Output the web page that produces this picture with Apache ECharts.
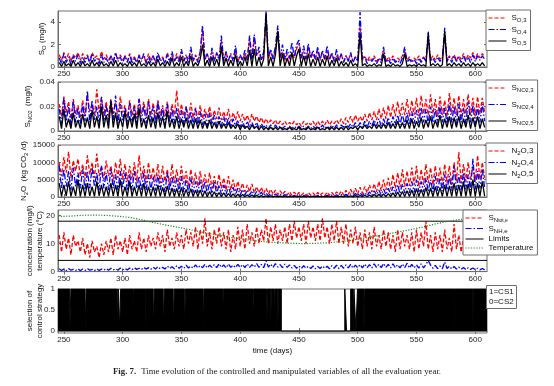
<!DOCTYPE html>
<html><head><meta charset="utf-8">
<script src="https://cdn.jsdelivr.net/npm/echarts@6/dist/echarts.min.js"></script>
<style>html,body{margin:0;padding:0;background:#fff}#c{width:554px;height:386px}</style>
</head><body><div id="c"></div>
<script>
// ---- sampling of the noisy series (days) ----
const dayStart = 246, dayStep = 2;
const xTicks = [250,300,350,400,450,500,550,600];

// Panel 1: S_O (mg/l)
const so3 = [1.1,0.6,1.3,0.7,1.2,0.5,1.1,0.8,1.3,0.6, 1.2,0.7,1.1,0.5,1.3,0.8,1.0,0.6,1.4,0.7, 1.1,0.6,1.0,0.5,1.2,0.7,1.1,0.6,1.0,0.5, 1.2,0.6,0.9,0.5,1.1,0.7,1.0,0.4,1.2,0.6, 1.0,0.5,1.1,0.7,0.9,0.4,1.3,0.6,1.0,0.5, 1.2,0.6,1.4,0.5,1.0,0.7,1.5,0.5,1.1,0.6, 1.3,3.4,0.7,1.1,0.5,1.4,0.6,1.2,0.8,2.4, 0.6,1.3,0.5,1.1,0.7,1.5,0.5,1.0,0.6,1.2, 0.7,2.5,0.6,2.6,1.0,1.4,0.6,1.2,4.2,0.8, 1.3,0.7,1.5,3.2,0.8,1.4,0.6,1.2,0.7,1.3, 0.8,1.6,2.1,0.7,1.4,0.6,1.8,0.8,1.2,0.6, 1.5,0.7,1.3,0.6,1.4,0.7,1.2,0.5,1.0,0.6, 1.1,0.5,1.0,0.6,1.2,0.5,0.9,0.6,3.6,0.7, 1.0,0.5,0.9,0.6,1.0,0.5,0.8,0.6,1.5,0.5, 0.9,0.6,1.0,0.5,0.8,0.6,1.0,1.4,0.6,0.9, 0.5,0.8,0.6,1.0,0.5,0.9,0.6,2.5,0.7,1.0, 0.6,1.1,0.7,0.9,2.8,0.6,1.0,0.7,1.1,0.6, 1.0,0.7,1.2,0.6,1.1,0.8,1.3,0.7,1.2,0.8, 1.2,0.9];
const so4 = [0.8,0.3,1.2,0.4,0.9,0.2,1.0,0.5,1.1,0.3, 0.9,0.4,1.0,0.3,1.2,0.5,0.8,0.3,1.1,0.4, 0.8,0.3,1.0,0.4,1.3,0.5,0.9,0.3,1.0,0.4, 1.1,0.3,0.8,0.4,1.0,0.5,1.2,0.3,0.9,0.4, 1.0,0.3,1.3,0.5,0.8,0.3,1.1,0.4,1.4,0.5, 0.9,0.4,1.6,0.5,1.1,0.3,1.8,0.6,1.0,0.4, 1.4,3.7,0.6,1.2,0.4,1.7,0.5,1.3,0.6,2.8, 0.5,1.4,0.6,1.2,0.5,1.9,0.4,1.1,0.6,1.5, 0.6,2.8,0.7,2.9,1.0,1.8,0.6,1.4,5.0,0.9, 1.6,0.7,1.9,3.7,0.9,2.0,0.7,1.6,0.8,2.2, 0.9,2.0,2.4,0.8,1.9,0.7,2.1,0.8,1.5,0.7, 1.8,0.6,1.5,0.7,1.9,0.6,1.3,0.5,1.6,0.5, 1.2,0.4,1.0,0.5,1.3,0.4,0.9,0.5,4.9,0.6, 0.9,0.3,0.7,0.5,0.8,0.3,0.7,0.4,1.8,0.4, 0.7,0.3,0.8,0.4,0.6,0.3,0.8,1.8,0.4,0.7, 0.4,0.7,0.3,0.8,0.4,0.9,0.5,3.2,0.5,0.8, 0.4,0.9,0.5,0.8,3.5,0.5,0.9,0.4,1.0,0.5, 0.9,0.4,1.0,0.5,0.9,0.4,1.1,0.5,1.0,0.6, 1.0,0.7];
const so5 = [0.4,0.05,0.5,0.1,0.3,0.05,0.6,0.1,0.4,0.05, 0.5,0.1,0.3,0.05,0.6,0.1,0.4,0.05,0.5,0.1, 0.3,0.05,0.5,0.1,0.6,0.05,0.4,0.1,0.3,0.05, 0.5,0.1,0.4,0.05,0.6,0.1,0.3,0.05,0.5,0.1, 0.4,0.05,0.7,0.1,0.4,0.05,0.5,0.1,0.8,0.05, 0.4,0.1,0.9,0.05,0.5,0.1,1.0,0.05,0.4,0.1, 0.7,2.0,0.1,0.6,0.05,0.9,0.1,0.7,0.05,1.8, 0.1,0.8,0.05,0.6,0.1,1.1,0.05,0.5,0.1,0.9, 0.1,1.5,0.05,1.6,0.1,0.9,0.05,0.7,4.8,0.1, 0.9,0.05,1.1,3.2,0.1,1.2,0.05,0.8,0.1,1.3, 0.1,1.0,1.6,0.05,1.0,0.1,1.2,0.05,0.7,0.1, 0.9,0.05,0.7,0.1,1.0,0.05,0.6,0.1,0.8,0.05, 0.5,0.1,0.4,0.05,0.6,0.1,0.3,0.05,3.0,0.1, 0.3,0.05,0.2,0.1,0.3,0.05,0.2,0.1,1.2,0.05, 0.2,0.05,0.3,0.1,0.2,0.05,0.3,1.2,0.05,0.2, 0.1,0.2,0.05,0.3,0.1,0.2,0.05,3.0,0.1,0.3, 0.1,0.3,0.05,0.2,3.2,0.1,0.3,0.05,0.4,0.1, 0.3,0.05,0.4,0.1,0.3,0.05,0.4,0.1,0.3,0.1, 0.4,0.1];

// Panel 2: S_NO2 (mg/l)
const no3 = [.022,.012,.028,.015,.024,.010,.026,.014,.021,.011, .025,.013,.029,.016,.022,.012,.034,.015,.027,.013, .024,.011,.026,.014,.023,.012,.028,.015,.021,.011, .025,.013,.022,.010,.027,.014,.024,.012,.026,.013, .023,.011,.025,.013,.021,.012,.024,.010,.022,.013, .033,.011,.022,.012,.020,.010,.023,.011,.019,.010, .021,.010,.018,.011,.020,.009,.017,.010,.019,.009, .016,.009,.018,.008,.015,.009,.016,.008,.014,.008, .013,.007,.014,.008,.012,.007,.011,.006,.010,.006, .009,.006,.009,.005,.008,.005,.008,.005,.007,.005, .008,.005,.007,.004,.008,.005,.007,.005,.008,.004, .008,.005,.008,.005,.009,.005,.008,.006,.009,.006, .010,.006,.011,.007,.012,.007,.013,.008,.012,.008, .014,.008,.015,.009,.016,.009,.018,.010,.019,.010, .021,.011,.022,.012,.024,.012,.023,.013,.026,.012, .025,.013,.027,.012,.029,.014,.026,.013,.030,.014, .026,.012,.028,.013,.025,.012,.031,.014,.027,.013, .029,.012,.026,.014,.030,.013,.027,.012,.028,.014, .027,.015];
const no4 = [.018,.006,.027,.008,.020,.005,.024,.007,.019,.006, .022,.008,.033,.007,.025,.009,.020,.006,.028,.008, .021,.007,.025,.009,.029,.006,.022,.008,.019,.006, .023,.007,.020,.005,.026,.008,.021,.006,.024,.007, .020,.006,.024,.008,.019,.005,.022,.007,.018,.006, .019,.006,.017,.005,.020,.006,.016,.005,.018,.004, .016,.005,.014,.004,.015,.005,.013,.004,.012,.004, .012,.004,.011,.003,.010,.004,.009,.003,.008,.003, .008,.003,.007,.003,.007,.002,.006,.003,.005,.002, .005,.002,.005,.002,.004,.002,.004,.002,.004,.002, .004,.002,.004,.002,.004,.002,.004,.002,.004,.002, .004,.002,.005,.002,.004,.002,.005,.002,.005,.002, .005,.003,.006,.003,.006,.003,.007,.003,.007,.003, .008,.003,.008,.004,.009,.004,.010,.004,.010,.004, .011,.004,.012,.005,.013,.005,.014,.005,.015,.005, .016,.006,.017,.006,.019,.007,.018,.006,.020,.007, .018,.006,.021,.007,.019,.006,.023,.007,.020,.006, .022,.007,.019,.006,.024,.007,.021,.006,.020,.007, .022,.008];
const no5 = [.012,.002,.018,.003,.010,.002,.015,.003,.009,.002, .014,.003,.011,.002,.017,.003,.012,.002,.020,.003, .013,.002,.024,.003,.015,.002,.011,.003,.016,.002, .012,.003,.014,.002,.018,.003,.010,.002,.013,.003, .011,.002,.015,.003,.012,.002,.016,.003,.010,.002, .012,.002,.010,.003,.011,.002,.009,.002,.010,.002, .009,.002,.008,.002,.009,.002,.007,.002,.008,.002, .006,.002,.007,.002,.005,.002,.006,.001,.005,.002, .004,.001,.005,.002,.004,.001,.004,.001,.003,.001, .003,.001,.003,.001,.003,.001,.002,.001,.003,.001, .002,.001,.003,.001,.002,.001,.003,.001,.002,.001, .003,.001,.002,.001,.003,.001,.003,.001,.003,.001, .003,.001,.004,.001,.003,.002,.004,.001,.004,.002, .005,.002,.004,.002,.006,.002,.005,.002,.006,.002, .007,.002,.006,.002,.008,.002,.007,.002,.009,.002, .010,.002,.008,.003,.011,.002,.009,.003,.012,.002, .009,.003,.013,.002,.010,.003,.012,.002,.011,.003, .012,.002,.010,.003,.013,.002,.011,.003,.012,.002, .010,.003];

// Panel 3: N2O (kg CO2/d)
const n2o3 = [10000,6000,11500,7000,13000,5500,10500,7500,11000,6000, 9500,5000,12000,6500,10000,5500,12500,6000,9000,5000, 10500,6000,9000,4500,10000,5500,11000,5000,9500,4500, 9000,5000,10000,4500,12000,5000,9000,4000,10000,5000, 8500,4500,9500,4000,9000,4500,8000,3500,9500,4000, 8000,3500,9000,4000,7500,3000,8000,3500,7000,3000, 7500,3000,6500,3000,7000,2500,6000,2500,6500,2500, 5500,2000,6000,2000,5000,1800,4500,1800,4000,1500, 3500,1500,3800,1200,3000,1200,2800,1000,2500,900, 2200,800,2000,700,1800,700,1600,600,1500,500, 1400,500,1300,500,1200,400,1300,500,1200,400, 1300,500,1200,400,1400,500,1300,500,1500,600, 1700,600,1900,700,2200,800,2500,900,2800,1000, 3000,1200,3500,1400,3800,1500,4500,1800,5000,2000, 5500,2200,6500,2500,7000,2800,8000,3000,7500,3200, 8500,3500,9000,3000,8000,3500,9500,4000,8500,3500, 9000,4000,8500,3500,9500,4000,9000,3500,10000,4500, 13000,4000,9500,4500,10000,5000,9000,4500,12000,5000, 10000,5500];
const n2o4 = [9000,2500,8000,3000,7500,2000,8500,3000,7000,2500, 8000,2000,7500,2500,8500,3000,7000,2000,9000,2500, 7000,2000,8000,2500,6500,2000,7500,2500,7000,1800, 6500,2000,7500,2500,6000,1800,7000,2000,6500,2000, 6000,1800,6500,2000,5500,1500,7000,1800,6000,1500, 5500,1500,6000,1500,5000,1200,5500,1300,4500,1200, 5000,1200,4500,1000,4000,1000,4500,900,3500,800, 3500,800,3000,700,2800,600,2500,600,2200,500, 2000,500,1800,400,1600,400,1400,350,1200,300, 1000,300,900,250,800,250,700,200,600,200, 500,200,500,150,450,150,500,150,450,150, 500,150,450,150,500,200,550,200,600,200, 700,250,800,300,900,300,1000,350,1200,400, 1300,400,1500,500,1800,600,2000,600,2300,700, 2500,800,3000,900,3500,1000,3800,1100,4000,1200, 4500,1300,5000,1500,4500,1400,5500,1600,5000,1500, 6000,1800,5500,1700,6500,2000,6000,1800,9000,2000, 6500,2000,7000,2200,6500,2000,11000,2200,7500,2500, 8000,2500];
const n2o5 = [4000,200,3500,300,4500,200,3000,300,5000,200, 3500,200,4000,300,3000,200,4500,300,3500,200, 3000,200,4000,300,3500,200,5000,300,3000,200, 4500,200,3000,300,3500,200,4000,200,3000,200, 3000,200,3500,200,2800,150,3200,200,2600,150, 2500,150,2800,150,2200,100,2400,150,2000,100, 2000,100,1800,100,1600,100,1500,100,1300,80, 1200,80,1000,80,900,60,800,60,700,50, 600,50,550,40,500,40,400,40,350,30, 300,30,280,30,250,20,220,20,200,20, 180,20,170,20,160,20,170,20,160,20, 170,20,160,20,180,20,190,20,200,20, 250,30,300,30,350,40,400,40,450,50, 500,50,600,60,700,60,800,70,900,80, 1000,90,1200,100,1400,100,1600,120,1800,130, 2000,150,2400,150,2200,150,2800,200,2600,150, 3000,200,2800,200,3500,200,3200,200,4000,200, 3500,200,4500,200,3800,200,5000,200,4000,200, 4500,250];

// Panel 4: concentration (mg/l) and temperature (°C)
const sNtot = [13,7,14,8,12,6,13,9,11,7, 12,6,10,5,11,7,9,5,10,6, 11,7,12,6,13,8,11,7,12,6, 13,8,11,7,14,8,12,7,13,9, 12,8,14,9,13,7,15,9,12,8, 14,9,13,8,15,10,14,9,16,8, 15,10,19,9,14,8,15,10,16,9, 14,8,15,7,13,8,16,9,15,8, 17,10,14,9,16,10,15,11,19,10, 16,11,17,10,15,11,16,10,17,11, 18,12,16,11,17,10,18,12,16,11, 17,11,19,12,16,10,17,11,18,10, 16,10,17,9,15,10,16,9,14,8, 15,9,14,8,16,9,13,8,15,9, 14,8,13,7,15,8,14,9,13,8, 14,7,15,8,14,9,18,8,13,7, 14,8,13,7,15,8,12,7,17,8, 13,7,12,6,14,7,13,8,12,7, 13,8];
const sNH = [1.0,0.4,0.9,0.3,1.1,0.5,0.8,0.4,1.0,0.3, 0.9,0.4,1.1,0.5,0.8,0.3,1.0,0.4,0.9,0.5, 1.1,0.5,1.2,0.6,1.0,0.5,1.3,0.6,1.1,0.6, 1.3,0.7,1.4,0.8,1.2,0.7,1.5,0.9,1.4,0.8, 1.6,0.9,1.8,1.0,1.5,0.9,2.0,1.1,1.7,1.0, 2.1,1.2,1.9,1.1,2.3,1.3,2.0,1.2,2.4,1.3, 2.2,1.4,2.6,1.3,2.3,1.5,2.5,1.4,2.8,1.5, 2.4,1.3,2.7,1.5,2.3,1.4,2.6,1.5,2.5,1.4, 2.8,1.5,2.5,1.6,2.9,1.5,2.6,1.4,3.8,1.6, 2.7,1.5,2.9,1.6,2.5,1.4,2.7,1.5,2.4,1.3, 2.2,1.2,2.0,1.1,2.1,1.2,1.9,1.1,2.0,1.0, 1.8,1.1,2.0,1.2,1.9,1.0,2.1,1.2,2.3,1.1, 2.2,1.2,2.4,1.3,2.6,1.2,2.3,1.4,2.5,1.3, 2.7,1.4,2.5,1.3,2.8,1.5,2.6,1.4,2.9,1.5, 2.6,1.3,2.8,1.4,2.5,1.3,2.7,1.4,3.0,1.3, 2.6,1.3,2.4,1.2,2.8,1.3,2.5,4.0,2.3,1.2, 2.2,1.1,2.0,1.0,3.4,1.1,1.9,1.0,1.8,0.9, 1.6,0.8,1.5,0.7,1.4,0.8,1.3,0.7,1.2,0.6, 1.1,0.6];
const tempStart = 245, tempStep = 10;
const temperature = [19.7,19.8,20.1,20.2,20.1,19.8,19.4,18.6,17.6,16.8,16.0,15.2,14.3,13.5,12.7,12.0,11.4,10.9,10.5,10.3,10.1,10.0,10.1,10.3,10.7,11.2,11.9,12.6,13.4,14.2,15.0,15.9,16.9,17.8,18.5,19.0,19.4];
const limitValues = [18, 4];

// Panel 5: selection of control strategy (periods with CS2 = 0)
const cs2Periods = [[255,256],[268,269],[295.5,296.5],[297.5,298.3],[309,309.5],[319,319.4],[326,327],[334.5,335.5],[343,344],[352.5,353.5],[368.5,369.3],[385,385.6],[410.5,411.3],[422.5,423.3],[426,426.5],[429,429.6],[432,432.6],[435,489],[490.5,494],[496,496.8],[498.5,499.8],[505.3,506],[582,582.4],[598,598.3]];

// ---- build ----
const xMin = 245, xMax = 610;
const toXY = arr => arr.map((v, i) => [dayStart + i * dayStep, v]);
const tempXY = temperature.map((v, i) => [tempStart + i * tempStep, v]);
const csData = [[xMin, 1]];
cs2Periods.forEach(p => { csData.push([p[0], 0]); csData.push([p[1], 1]); });
csData.push([xMax, 1]);

const FONT = 'Liberation Sans, Arial, Helvetica, sans-serif';
const SERIF = 'Liberation Serif, Times New Roman, serif';
const frame = '#6e6e6e';
const RED = '#ff0000', BLUE = '#0000ff', BLACK = '#000000', GREEN = '#1e8c1e';
const DASH = [4, 2], DASHDOT = [6, 2, 1.5, 2], DOT = [1.2, 1.5];
const FS = 8;

const panels = [
  {top: 11, height: 56, min: 0, max: 5, ticks: [0, 2, 4], gap: 11,
   name: '{m|S}{s|O}{m| (mg/l)}'},
  {top: 82, height: 49, min: 0, max: 0.04, ticks: [0, 0.02, 0.04], gap: 25,
   name: '{m|S}{s|NO}{t|2}{m|  (mg/l)}'},
  {top: 145, height: 52, min: 0, max: 15000, ticks: [0, 5000, 10000, 15000], gap: 29,
   name: '{m|N}{s|2}{m|O  (kg CO}{s|2}{m| /d)}'},
  {top: 210, height: 61.6, min: 0, max: 22, ticks: [0, 10, 20], gap: 13,
   name: '{m|concentration (mg/l)}\n{m|temperature (°C)}'},
  {top: 289, height: 44, min: -0.05, max: 1, ticks: [0, 0.5, 1], gap: 13,
   name: '{m|selection of}\n{m|control strategy}'}
];
const rich = {
  m: {fontSize: FS, lineHeight: 11, fontFamily: FONT, color: '#111'},
  s: {fontSize: 6, lineHeight: 5, verticalAlign: 'bottom', fontFamily: FONT, color: '#111'},
  t: {fontSize: 5, lineHeight: 2, verticalAlign: 'bottom', fontFamily: FONT, color: '#111'}
};
const nameRich = {
  m: {fontSize: FS, lineHeight: 10, fontFamily: FONT, color: '#111'},
  s: {fontSize: 6, lineHeight: 4, verticalAlign: 'bottom', fontFamily: FONT, color: '#111'},
  t: {fontSize: 5, lineHeight: 1, verticalAlign: 'bottom', fontFamily: FONT, color: '#111'}
};

const grid = [], xAxis = [], yAxis = [];
panels.forEach((p, k) => {
  grid.push({left: 58, width: 429, top: p.top, height: p.height, show: true,
    borderColor: frame, borderWidth: 1, backgroundColor: 'transparent'});
  xAxis.push({type: 'value', gridIndex: k, min: xMin, max: xMax, position: 'bottom',
    splitLine: {show: false},
    axisLine: {show: true, lineStyle: {color: frame}},
    axisTick: {show: true, inside: true, length: 3, customValues: xTicks, lineStyle: {color: frame}},
    axisLabel: {customValues: xTicks, fontSize: FS, margin: 3, color: '#222', fontFamily: FONT},
    name: k === 4 ? 'time (days)' : '', nameLocation: 'middle', nameGap: 14, nameMoveOverlap: false,
    nameTextStyle: {fontSize: FS, color: '#111', fontFamily: FONT}});
  xAxis.push({type: 'value', gridIndex: k, min: xMin, max: xMax, position: 'top',
    splitLine: {show: false}, axisLine: {show: false}, axisLabel: {show: false},
    axisTick: {show: true, inside: true, length: 3, customValues: xTicks, lineStyle: {color: frame}}});
  yAxis.push({type: 'value', gridIndex: k, min: p.min, max: p.max, position: 'left',
    splitLine: {show: false},
    axisLine: {show: true, lineStyle: {color: frame}},
    axisTick: {show: true, inside: true, length: 3, customValues: p.ticks, lineStyle: {color: frame}},
    axisLabel: {customValues: p.ticks, fontSize: FS, margin: 3, color: '#222', fontFamily: FONT,
      formatter: v => String(v)},
    name: p.name, nameLocation: 'middle', nameRotate: 90, nameGap: p.gap, nameMoveOverlap: false,
    nameTextStyle: {rich: nameRich, align: 'center'}});
  yAxis.push({type: 'value', gridIndex: k, min: p.min, max: p.max, position: 'right',
    splitLine: {show: false}, axisLine: {show: false}, axisLabel: {show: false},
    axisTick: {show: true, inside: true, length: 3, customValues: p.ticks, lineStyle: {color: frame}}});
});

function line(name, k, data, color, type, width, extra) {
  return Object.assign({name, type: 'line', xAxisIndex: 2 * k, yAxisIndex: 2 * k, data,
    symbol: 'none', silent: true, animation: false,
    lineStyle: {color, width, type}, itemStyle: {color}}, extra || {});
}
const W = 1.3;
const series = [
  line('SO3', 0, toXY(so3), RED, DASH, W),
  line('SO4', 0, toXY(so4), BLUE, DASHDOT, W),
  line('SO5', 0, toXY(so5), BLACK, 'solid', W),
  line('SNO3', 1, toXY(no3), RED, DASH, W),
  line('SNO4', 1, toXY(no4), BLUE, DASHDOT, W),
  line('SNO5', 1, toXY(no5), BLACK, 'solid', W),
  line('N2O3', 2, toXY(n2o3), RED, DASH, W),
  line('N2O4', 2, toXY(n2o4), BLUE, DASHDOT, W),
  line('N2O5', 2, toXY(n2o5), BLACK, 'solid', W),
  line('SNtot', 3, toXY(sNtot), RED, DASH, W),
  line('SNH', 3, toXY(sNH), BLUE, DASHDOT, W),
  line('Limits', 3, [[xMin, limitValues[0]], [xMax, limitValues[0]]], BLACK, 'solid', 1),
  line('Limits', 3, [[xMin, limitValues[1]], [xMax, limitValues[1]]], BLACK, 'solid', 1),
  line('Temperature', 3, tempXY, GREEN, DOT, 1.2),
  line('CS', 4, csData, BLACK, 'solid', 1, {step: 'end', areaStyle: {color: '#000', opacity: 1, origin: 'auto'}})
];

const fmt = {
  SO3: '{m|S}{s|O,3}', SO4: '{m|S}{s|O,4}', SO5: '{m|S}{s|O,5}',
  SNO3: '{m|S}{s|NO}{t|2}{s|,3}', SNO4: '{m|S}{s|NO}{t|2}{s|,4}', SNO5: '{m|S}{s|NO}{t|2}{s|,5}',
  N2O3: '{m|N}{s|2}{m|O,3}', N2O4: '{m|N}{s|2}{m|O,4}', N2O5: '{m|N}{s|2}{m|O,5}',
  SNtot: '{m|S}{s|N}{t|tot,e}', SNH: '{m|S}{s|NH,e}', Limits: '{m|Limits}', Temperature: '{m|Temperature}'
};
function legend(names, left, top, gap, pad) {
  return {data: names, left, top, orient: 'vertical', itemWidth: 18, itemHeight: 8, itemGap: gap,
    padding: pad, borderColor: frame, borderWidth: 1, backgroundColor: '#fff', selectedMode: false,
    itemStyle: {opacity: 0, color: 'transparent', borderWidth: 0},
    lineStyle: {width: 1},
    formatter: n => fmt[n], textStyle: {rich}, z: 10};
}

const option = {
  animation: false,
  textStyle: {fontFamily: FONT},
  grid, xAxis, yAxis, series,
  legend: [
    legend(['SO3', 'SO4', 'SO5'], 486, 10, 2, [4, 4, 4, 2]),
    legend(['SNO3', 'SNO4', 'SNO5'], 486, 80, 7, [4, 4, 4, 2]),
    legend(['N2O3', 'N2O4', 'N2O5'], 486, 143, 2, [4, 4, 4, 2]),
    legend(['SNtot', 'SNH', 'Limits', 'Temperature'], 463, 210, 1, [4, 4, 3, 2])
  ],
  title: [
    {text: '1=CS1\n0=CS2', left: 486, top: 285, padding: [2, 3, 2, 3], borderColor: frame, borderWidth: 1,
     backgroundColor: '#fff', textStyle: {fontSize: FS, fontWeight: 'normal', lineHeight: 10, color: '#111', fontFamily: FONT}},
    {text: '{b|Fig. 7.} {r|Time evolution of the controlled and manipulated variables of all the evaluation year.}',
     left: 'center', top: 363, padding: 0,
     textStyle: {fontWeight: 'normal', rich: {
       b: {fontSize: 8.8, fontWeight: 'bold', fontFamily: SERIF, color: '#222'},
       r: {fontSize: 8.8, fontWeight: 'normal', fontFamily: SERIF, color: '#222'}}}}
  ]
};
const chart = echarts.init(document.getElementById('c'), null, {renderer: 'canvas'});
chart.setOption(option);
</script></body></html>
